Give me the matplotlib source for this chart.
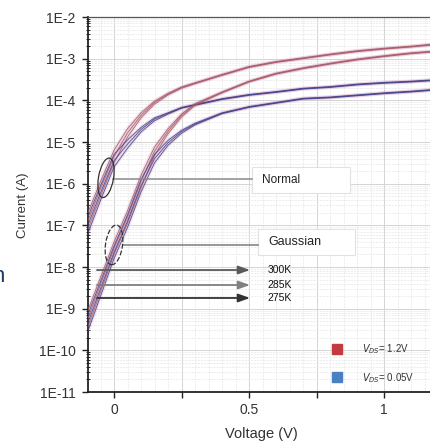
import numpy as np
import matplotlib
matplotlib.use("Agg")
import matplotlib.pyplot as plt
from matplotlib.ticker import LogLocator, MultipleLocator, FuncFormatter, NullFormatter
from matplotlib.patches import Ellipse, Rectangle
from matplotlib.lines import Line2D
from matplotlib.transforms import ScaledTranslation

plt.rcParams['font.family'] = ['Liberation Sans', 'DejaVu Sans']

# ---------------- data (log10 of current in A) ----------------
voltage = [-0.1, -0.05, 0, 0.05, 0.1, 0.15, 0.2, 0.25, 0.3, 0.4, 0.5, 0.6, 0.7, 0.8, 0.9, 1.0, 1.1, 1.2]

normal_red_300 = [-6.75, -5.95, -5.2, -4.68, -4.3, -4.02, -3.83, -3.68, -3.58, -3.38, -3.19, -3.07, -2.98, -2.89, -2.81, -2.75, -2.70, -2.64]
normal_red_285 = [-6.95, -6.12, -5.35, -4.78, -4.36, -4.05, -3.85, -3.69, -3.59, -3.39, -3.20, -3.08, -2.99, -2.90, -2.82, -2.76, -2.71, -2.65]
normal_red_275 = [-7.15, -6.30, -5.50, -4.88, -4.42, -4.09, -3.87, -3.71, -3.60, -3.40, -3.21, -3.09, -3.00, -2.91, -2.83, -2.77, -2.72, -2.66]

normal_blue_300 = [-6.85, -6.05, -5.30, -4.95, -4.65, -4.42, -4.30, -4.17, -4.10, -3.96, -3.86, -3.79, -3.71, -3.67, -3.61, -3.57, -3.54, -3.50]
normal_blue_285 = [-7.05, -6.22, -5.45, -5.05, -4.70, -4.45, -4.31, -4.18, -4.11, -3.97, -3.87, -3.80, -3.72, -3.68, -3.62, -3.58, -3.55, -3.51]
normal_blue_275 = [-7.25, -6.40, -5.60, -5.15, -4.76, -4.49, -4.33, -4.19, -4.12, -3.98, -3.88, -3.81, -3.73, -3.69, -3.63, -3.59, -3.56, -3.52]

gauss_red_300 = [-9.10, -8.25, -7.40, -6.65, -5.80, -5.12, -4.68, -4.33, -4.08, -3.80, -3.54, -3.35, -3.22, -3.11, -3.01, -2.93, -2.86, -2.81]
gauss_red_285 = [-9.30, -8.42, -7.55, -6.80, -5.95, -5.22, -4.74, -4.36, -4.10, -3.81, -3.55, -3.36, -3.23, -3.12, -3.02, -2.94, -2.87, -2.82]
gauss_red_275 = [-9.50, -8.60, -7.70, -6.95, -6.10, -5.32, -4.80, -4.40, -4.12, -3.82, -3.56, -3.37, -3.24, -3.13, -3.03, -2.95, -2.88, -2.83]

gauss_blue_300 = [-9.20, -8.35, -7.50, -6.75, -5.90, -5.30, -4.96, -4.72, -4.55, -4.30, -4.15, -4.05, -3.95, -3.92, -3.87, -3.82, -3.78, -3.73]
gauss_blue_285 = [-9.40, -8.52, -7.65, -6.90, -6.05, -5.40, -5.02, -4.75, -4.57, -4.31, -4.16, -4.06, -3.96, -3.93, -3.88, -3.83, -3.79, -3.74]
gauss_blue_275 = [-9.60, -8.70, -7.80, -7.05, -6.20, -5.50, -5.08, -4.79, -4.59, -4.32, -4.17, -4.07, -3.97, -3.94, -3.89, -3.84, -3.80, -3.75]

temperature_labels = ["300K", "285K", "275K"]
group_labels = ["Normal", "Gaussian"]
legend_labels = [r"$V_{DS}$= 1.2V", r"$V_{DS}$= 0.05V"]
xtick_labels = {0.0: "0", 0.5: "0.5", 1.0: "1"}

RED = "#a45860"
BLUE = "#3a3f88"
BAND = "#dcaacb"

fig = plt.figure(figsize=(4.30, 4.44), dpi=100)
ax = fig.add_axes([88/430, 1-392/444, (430-88)/430, (392-17)/444])
ax.set_yscale('log')
ax.set_xlim(-0.0963, 1.170)
ax.set_ylim(1e-11, 1e-2)

# grid
ax.xaxis.set_major_locator(MultipleLocator(0.25))
ax.xaxis.set_minor_locator(MultipleLocator(0.05))
ax.yaxis.set_major_locator(LogLocator(base=10, numticks=20))
ax.yaxis.set_minor_locator(LogLocator(base=10, subs=np.arange(2, 10), numticks=50))
ax.grid(which='major', color='#d4d4d4', lw=0.7)
ax.grid(which='minor', color='#e6e6e6', lw=0.5, ls=(0, (3, 1.5)))
ax.set_axisbelow(True)

curves = [
    (normal_red_300, RED), (normal_red_285, RED), (normal_red_275, RED),
    (normal_blue_300, BLUE), (normal_blue_285, BLUE), (normal_blue_275, BLUE),
    (gauss_red_300, RED), (gauss_red_285, RED), (gauss_red_275, RED),
    (gauss_blue_300, BLUE), (gauss_blue_285, BLUE), (gauss_blue_275, BLUE),
]
v = np.array(voltage)
for logi, c in curves:
    ax.plot(v, 10**np.array(logi), color=BAND, lw=2.6, alpha=0.3, solid_capstyle='round', zorder=2)
for logi, c in curves:
    ax.plot(v, 10**np.array(logi), color=c, lw=0.7, alpha=0.8, zorder=3)

# spines & ticks
ax.spines['right'].set_visible(False)
ax.spines['top'].set_color('#555555')
ax.spines['top'].set_linewidth(0.9)
ax.spines['left'].set_color('#222222')
ax.spines['left'].set_linewidth(1.3)
ax.spines['bottom'].set_color('#222222')
ax.spines['bottom'].set_linewidth(1.3)

ax.xaxis.set_major_formatter(FuncFormatter(lambda x, p: xtick_labels.get(round(x, 2), "")))
ax.yaxis.set_major_formatter(FuncFormatter(lambda y, p: "1E%d" % int(round(np.log10(y)))))
ax.yaxis.set_minor_formatter(NullFormatter())
ax.tick_params(axis='both', which='major', labelsize=10, colors='#222222', labelcolor='#333333')
ax.tick_params(axis='x', which='major', direction='out', length=4, width=1, pad=4)
ax.tick_params(axis='x', which='minor', length=0)
ax.tick_params(axis='y', which='major', direction='out', length=4, width=1, pad=5)
ax.tick_params(axis='y', which='minor', direction='inout', length=3, width=0.6)
ax.tick_params(top=False, right=False)

fig.text(261/430, 1-434/444, "Voltage (V)", ha='center', va='center', fontsize=10.5, color='#333333')
fig.text(23/430, 1-205/444, "Current (A)", ha='center', va='center', rotation=90, fontsize=9.5, color='#333333')
fig.text(5/430, 1-282/444, "n", ha='right', va='baseline', fontsize=16, color='#1f3a66')

# callout boxes
ax.add_patch(Rectangle((0.4795, 0.5307), 0.2865, 0.0693, transform=ax.transAxes,
                       facecolor='white', edgecolor='#e2e2e2', lw=0.8, zorder=4))
ax.add_patch(Rectangle((0.497, 0.3653), 0.2836, 0.0693, transform=ax.transAxes,
                       facecolor='white', edgecolor='#e2e2e2', lw=0.8, zorder=4))
ax.text(0.5088, 0.5653, group_labels[0], transform=ax.transAxes, fontsize=8.5,
        va='center', ha='left', color='#222222', zorder=5)
ax.text(0.5263, 0.400, group_labels[1], transform=ax.transAxes, fontsize=9,
        va='center', ha='left', color='#222222', zorder=5)

# callout lines
ax.plot([0.0731, 0.4795], [0.568, 0.568], transform=ax.transAxes, color='#8a8a8a', lw=1.1, zorder=4)
ax.plot([0.1023, 0.497], [0.392, 0.392], transform=ax.transAxes, color='#7a7a7a', lw=1.1, zorder=4)

arrow_y = [0.3253, 0.2853, 0.2507]
arrow_c = ['#5a5a5a', '#808080', '#333333']
for yy, lab, cc in zip(arrow_y, temperature_labels, arrow_c):
    ax.annotate("", xy=(0.4737, yy), xytext=(0.0263, yy), xycoords='axes fraction',
                arrowprops=dict(arrowstyle='-|>,head_length=0.7,head_width=0.25', color=cc, lw=1.3,
                                shrinkA=0, shrinkB=0), zorder=4)
    ax.text(0.526, yy, lab, transform=ax.transAxes, fontsize=7.5, va='center', ha='left',
            color='#111111', zorder=5)

# ellipses (size in inches, centred at annotation points)
e1 = Ellipse((0, 0), 15/100, 40/100, angle=-10, fill=False, ec='#333333', lw=0.9,
             transform=fig.dpi_scale_trans + ScaledTranslation(-0.0296, 10**-5.86, ax.transData), zorder=6)
e2 = Ellipse((0, 0), 17/100, 40/100, angle=-8, fill=False, ec='#333333', lw=0.9, ls=(0, (4, 1.5)),
             transform=fig.dpi_scale_trans + ScaledTranslation(0.0, 10**-7.47, ax.transData), zorder=6)
ax.add_patch(e1)
ax.add_patch(e2)

# legend
handles = [Line2D([], [], marker='s', ls='none', color='#c23b3f', markersize=7),
           Line2D([], [], marker='s', ls='none', color='#4a7fc2', markersize=7)]
leg = ax.legend(handles, legend_labels, loc='center left', bbox_to_anchor=(0.685, 0.076),
                frameon=False, fontsize=7, handletextpad=1.6, labelspacing=1.5, borderpad=0)
for t in leg.get_texts():
    t.set_color('#333333')

fig.savefig("out.png", dpi=100)
